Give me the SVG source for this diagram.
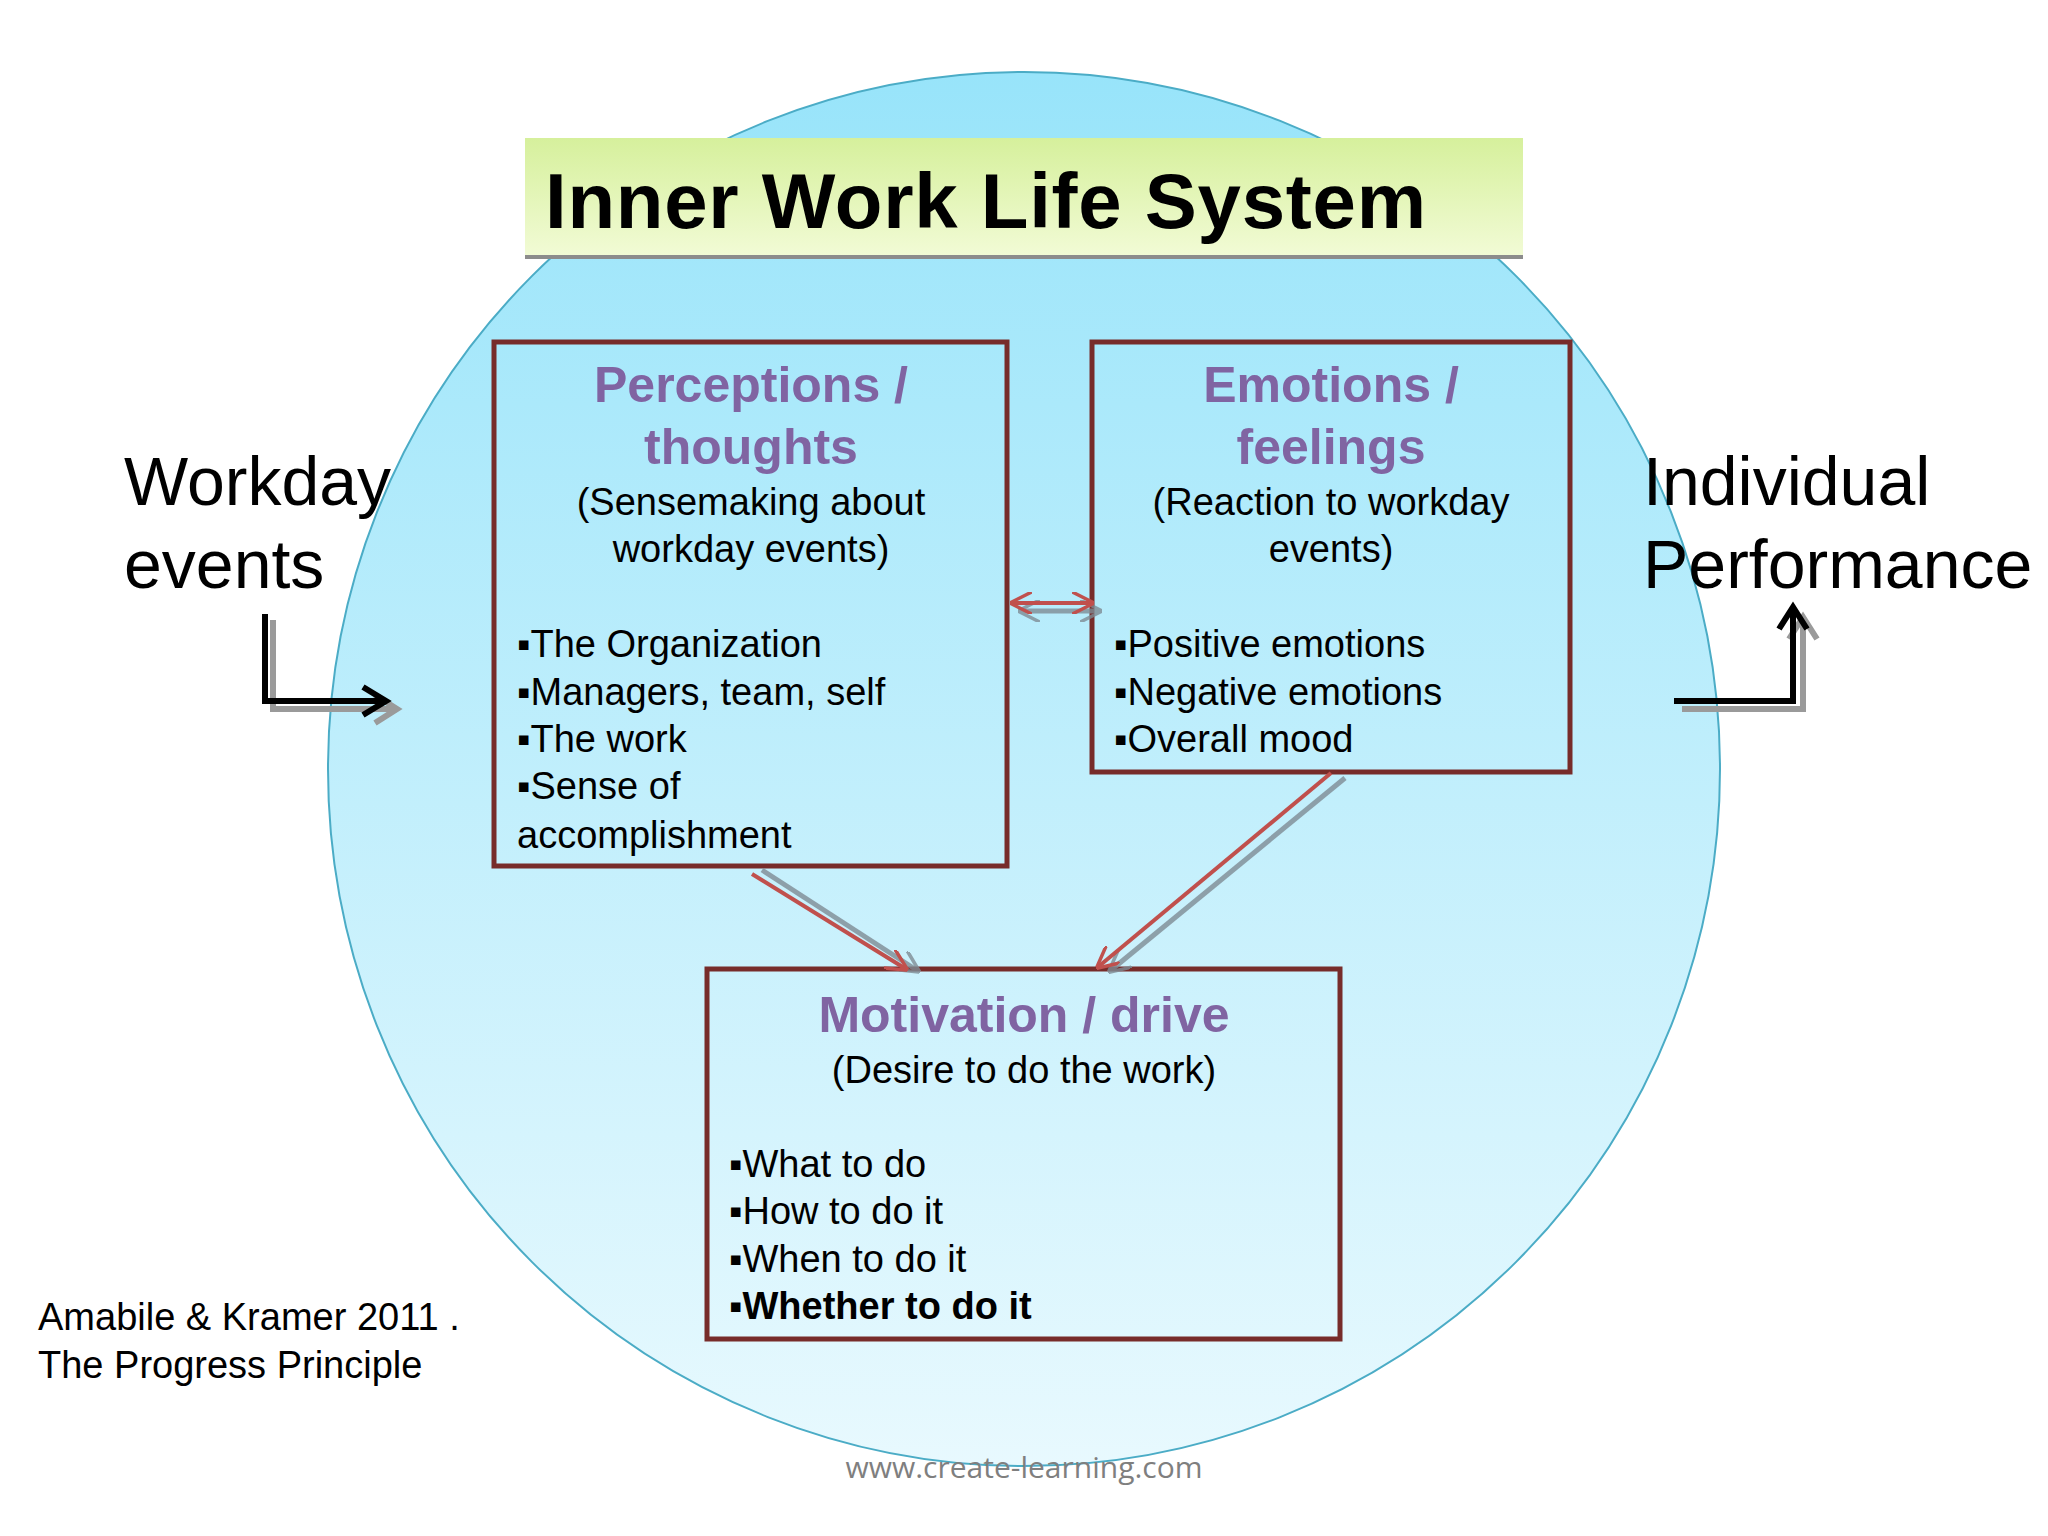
<svg xmlns="http://www.w3.org/2000/svg" width="2048" height="1536" viewBox="0 0 2048 1536">
<style>
text{font-family:"Liberation Sans",Arial,sans-serif;fill:#000}
.h{font-size:50px;font-weight:bold;fill:#8064A2;text-anchor:middle}
.s{font-size:38px;text-anchor:middle}
.b{font-size:38px}
.big{font-size:68px}
.box{fill:none;stroke:#772C2A;stroke-width:5}
.red{stroke:#C0504D;stroke-width:4;fill:none}
.gr{stroke:#7F8C95;stroke-width:5;fill:none;opacity:.8}
.blk{stroke:#000;stroke-width:6;fill:none}
.sh{stroke:#9A9A9A;stroke-width:6;fill:none}
</style>
<defs>
<linearGradient id="cg" x1="0" y1="0" x2="0" y2="1"><stop offset="0" stop-color="#98E4FA"/><stop offset="1" stop-color="#E8F9FE"/></linearGradient>
<linearGradient id="tg" x1="0" y1="0" x2="0" y2="1"><stop offset="0" stop-color="#D6F09C"/><stop offset="1" stop-color="#F2FBD6"/></linearGradient>
<marker id="ar" viewBox="0 0 10 10" refX="9" refY="5" markerWidth="22" markerHeight="22" orient="auto-start-reverse" markerUnits="userSpaceOnUse"><path d="M0,0 L10,5 L0,10" fill="none" stroke="#C0504D" stroke-width="1.6"/></marker>
<marker id="ag" viewBox="0 0 10 10" refX="9" refY="5" markerWidth="22" markerHeight="22" orient="auto-start-reverse" markerUnits="userSpaceOnUse"><path d="M0,0 L10,5 L0,10" fill="none" stroke="#7F8C95" stroke-width="1.6"/></marker>
</defs>
<rect width="2048" height="1536" fill="#fff"/>
<g id="system"><ellipse cx="1024" cy="769" rx="696" ry="697" fill="url(#cg)" stroke="#4BACC6" stroke-width="2"/></g>
<g id="title"><rect x="525" y="138" width="998" height="119" fill="url(#tg)"/><line x1="525" y1="257" x2="1523" y2="257" stroke="#8C8C8C" stroke-width="4"/>
<text x="545" y="228" textLength="881" style="font-size:78px;font-weight:bold">Inner Work Life System</text></g>
<g id="perceptions"><rect class="box" x="494" y="342" width="513" height="524"/>
<text class="h" x="751" y="402">Perceptions /</text><text class="h" x="751" y="464">thoughts</text>
<text class="s" x="751" y="515">(Sensemaking about</text><text class="s" x="751" y="562">workday events)</text>
<text class="b" x="517" y="657">▪The Organization</text><text class="b" x="517" y="705">▪Managers, team, self</text><text class="b" x="517" y="752">▪The work</text><text class="b" x="517" y="799">▪Sense of</text><text class="b" x="517" y="848">accomplishment</text></g>
<g id="emotions"><rect class="box" x="1092" y="342" width="478" height="430"/>
<text class="h" x="1331" y="402">Emotions /</text><text class="h" x="1331" y="464">feelings</text>
<text class="s" x="1331" y="515">(Reaction to workday</text><text class="s" x="1331" y="562">events)</text>
<text class="b" x="1114" y="657">▪Positive emotions</text><text class="b" x="1114" y="705">▪Negative emotions</text><text class="b" x="1114" y="752">▪Overall mood</text></g>
<g id="motivation"><rect class="box" x="707" y="969" width="633" height="370"/>
<text class="h" x="1024" y="1032">Motivation / drive</text><text class="s" x="1024" y="1083">(Desire to do the work)</text>
<text class="b" x="729" y="1177">▪What to do</text><text class="b" x="729" y="1224">▪How to do it</text><text class="b" x="729" y="1272">▪When to do it</text><text class="b" x="729" y="1319" style="font-weight:bold">▪Whether to do it</text></g>
<g id="workday"><text class="big" x="124" y="505">Workday</text><text class="big" x="124" y="588">events</text></g>
<g id="performance"><text class="big" x="1643" y="505">Individual</text><text class="big" x="1643" y="588">Performance</text></g>
<g id="citation"><text class="b" x="38" y="1330">Amabile &amp; Kramer 2011 .</text><text class="b" x="38" y="1378">The Progress Principle</text></g>
<text x="1024" y="1478" style="font-family:'Open Sans','Liberation Sans',sans-serif;font-size:30px;fill:#7F7F7F;text-anchor:middle">www.create-learning.com</text>
<g id="connectors">
<path class="sh" d="M273,620 V709 H395 M375,695 L397,709 L375,723"/>
<path class="blk" d="M265,614 V701 H385 M363,687 L386,701 L363,715"/>
<path class="sh" d="M1682,709 H1803 V617 M1789,639 L1803,617 L1817,639"/>
<path class="blk" d="M1674,701 H1793 V607 M1779,629 L1793,607 L1807,629"/>
<line class="gr" x1="1020" y1="611" x2="1100" y2="611" marker-start="url(#ag)" marker-end="url(#ag)"/>
<line class="red" x1="1012" y1="603" x2="1092" y2="603" marker-start="url(#ar)" marker-end="url(#ar)"/>
<line class="gr" x1="762" y1="870" x2="918" y2="971" marker-end="url(#ag)"/>
<line class="red" x1="752" y1="874" x2="906" y2="969" marker-end="url(#ar)"/>
<line class="gr" x1="1345" y1="778" x2="1110" y2="971" marker-end="url(#ag)"/>
<line class="red" x1="1331" y1="773" x2="1098" y2="967" marker-end="url(#ar)"/>
</g>
</svg>
